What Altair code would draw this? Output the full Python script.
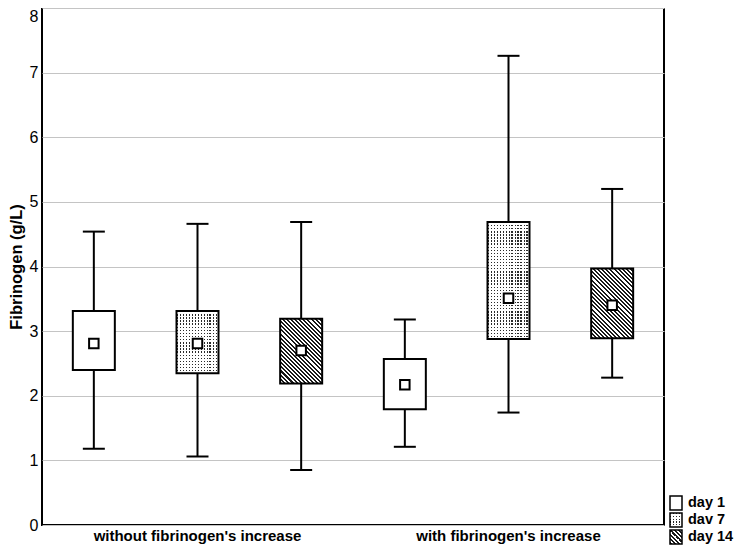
import math
import altair as alt
import pandas as pd

groups = ["without fibrinogen's increase", "with fibrinogen's increase"]
days = ["day 1", "day 7", "day 14"]
legend_labels = ["day 1", "dav 7", "day 14"]

# order: group 1 (day1, day7, day14), group 2 (day1, day7, day14)
whisker_low = [1.18, 1.06, 0.85, 1.21, 1.74, 2.28]
box_low = [2.40, 2.35, 2.19, 1.79, 2.88, 2.89]
mean_val = [2.81, 2.81, 2.70, 2.17, 3.51, 3.40]
box_high = [3.31, 3.31, 3.19, 2.57, 4.69, 3.97]
whisker_high = [4.54, 4.66, 4.69, 3.18, 7.26, 5.20]

df = pd.DataFrame({
    "group": [g for g in groups for d in days],
    "day": [d for g in groups for d in days],
    "lo": whisker_low,
    "q1": box_low,
    "mean": mean_val,
    "q3": box_high,
    "hi": whisker_high,
})

PLOT_W, PLOT_H = 622, 517
BOX_W = 42
PX_PER_UNIT = PLOT_H / 8.0
FONT = "Liberation Sans, Arial, Helvetica, sans-serif"


def stripe_gradient(n, dark, light, frac_dark, x1, y1, x2, y2):
    stops = []
    for i in range(n):
        a = i / n
        b = (i + frac_dark) / n
        c = (i + 1) / n
        stops += [
            {"offset": a, "color": dark},
            {"offset": b, "color": dark},
            {"offset": b, "color": light},
            {"offset": c, "color": light},
        ]
    return {"gradient": "linear", "x1": x1, "y1": y1, "x2": x2, "y2": y2, "stops": stops}


def hatch_gradient(w, h):
    k = (w + h) / (w * w + h * h)
    n = max(2, round((w + h) / math.sqrt(2) / 2.9))
    return stripe_gradient(n, "#1a1a1a", "#ffffff", 0.5, 0, 1, w * k, 1 - h * k)


def dot_gradients(w, h):
    n_cols = max(2, round(w / 3.1))
    n_rows = max(2, round(h / 3.1))
    cols = stripe_gradient(n_cols, "#2a2a2a", "rgba(255,255,255,0)", 0.45, 0, 0, 1, 0)
    rows = stripe_gradient(n_rows, "rgba(255,255,255,0)", "#ffffff", 0.45, 0, 0, 0, 1)
    return cols, rows


yscale = alt.Scale(domain=[0, 8], nice=False, zero=True)
yaxis = alt.Axis(
    values=list(range(9)), title="Fibrinogen (g/L)", ticks=False, domain=False,
    labelFontSize=16, labelPadding=4, labelColor="black", labelFont=FONT,
    labelBaseline=alt.ExprRef("datum.value == 8 ? 'top' : 'middle'"),
    titleFont=FONT, titleFontSize=16.5, titleFontWeight="bold", titlePadding=5, titleColor="black",
    grid=True, gridColor="#c4c4c4", gridWidth=1.2,
)


def Y(field):
    return alt.Y(f"{field}:Q", scale=yscale, axis=yaxis)


base = alt.Chart(df).encode(
    x=alt.X(
        "group:N", sort=groups,
        scale=alt.Scale(domain=groups, paddingInner=0, paddingOuter=0),
        axis=alt.Axis(title=None, labelAngle=0, labelFontWeight="bold", labelFontSize=15,
                      labelFont=FONT, labelColor="black", ticks=False, domain=False,
                      labelPadding=3, labelLimit=0, grid=False),
    ),
    xOffset=alt.XOffset("day:N", sort=days,
                        scale=alt.Scale(domain=days, paddingInner=0, paddingOuter=0)),
)

layers = []
layers.append(base.mark_rule(color="black", strokeWidth=2).encode(y=Y("lo"), y2="hi:Q"))
layers.append(base.mark_tick(color="black", size=22, thickness=2, orient="horizontal", opacity=1).encode(y=Y("lo")))
layers.append(base.mark_tick(color="black", size=22, thickness=2, orient="horizontal", opacity=1).encode(y=Y("hi")))
layers.append(base.mark_bar(size=BOX_W, fill="white").encode(y=Y("q1"), y2="q3:Q"))

for i in range(len(df)):
    g = df["group"][i]
    d = df["day"][i]
    h = (df["q3"][i] - df["q1"][i]) * PX_PER_UNIT
    sub = base.transform_filter((alt.datum.group == g) & (alt.datum.day == d))
    if d == "day 7":
        cols, rows = dot_gradients(BOX_W, h)
        layers.append(sub.mark_bar(size=BOX_W, fill=cols).encode(y=Y("q1"), y2="q3:Q"))
        layers.append(sub.mark_bar(size=BOX_W, fill=rows).encode(y=Y("q1"), y2="q3:Q"))
    elif d == "day 14":
        layers.append(sub.mark_bar(size=BOX_W, fill=hatch_gradient(BOX_W, h)).encode(y=Y("q1"), y2="q3:Q"))

layers.append(base.mark_bar(size=BOX_W, fill="transparent", stroke="black", strokeWidth=2).encode(y=Y("q1"), y2="q3:Q"))
layers.append(base.mark_square(size=90, fill="white", stroke="black", strokeWidth=2, opacity=1).encode(y=Y("mean")))

# legend (drawn manually so the symbols can carry the patterns)
leg_df = pd.DataFrame({"label": legend_labels})
leg_base = alt.Chart(leg_df)
SYM_X0, SYM_X1 = 628, 640
TEXT_X = 646
row_centers = [495, 512, 529]
for lab, cy in zip(legend_labels, row_centers):
    item = leg_base.transform_filter(alt.datum.label == lab)
    pos = dict(x=alt.value(SYM_X0), x2=alt.value(SYM_X1), y=alt.value(cy - 7), y2=alt.value(cy + 7))
    item_layers = [item.mark_rect(fill="white").encode(**pos)]
    if lab == "dav 7":
        cols, rows = dot_gradients(12, 14)
        item_layers.append(item.mark_rect(fill=cols).encode(**pos))
        item_layers.append(item.mark_rect(fill=rows).encode(**pos))
    elif lab == "day 14":
        item_layers.append(item.mark_rect(fill=hatch_gradient(12, 14)).encode(**pos))
    item_layers.append(item.mark_rect(fill="transparent", stroke="black", strokeWidth=1.5).encode(**pos))
    item_layers.append(item.mark_text(align="left", baseline="middle", font=FONT, fontSize=14.5,
                                      fontWeight="bold", color="black")
                       .encode(x=alt.value(TEXT_X), y=alt.value(cy), text="label:N"))
    layers.extend(item_layers)

chart = alt.layer(*layers).properties(
    width=PLOT_W, height=PLOT_H,
    autosize=alt.AutoSizeParams(type="none"),
    padding={"left": 34, "top": 0, "right": 70, "bottom": 20},
).configure(
    background="white"
).configure_view(
    stroke="black", strokeWidth=2
)

chart.save("out.html", embed_options={"renderer": "svg", "actions": False})
